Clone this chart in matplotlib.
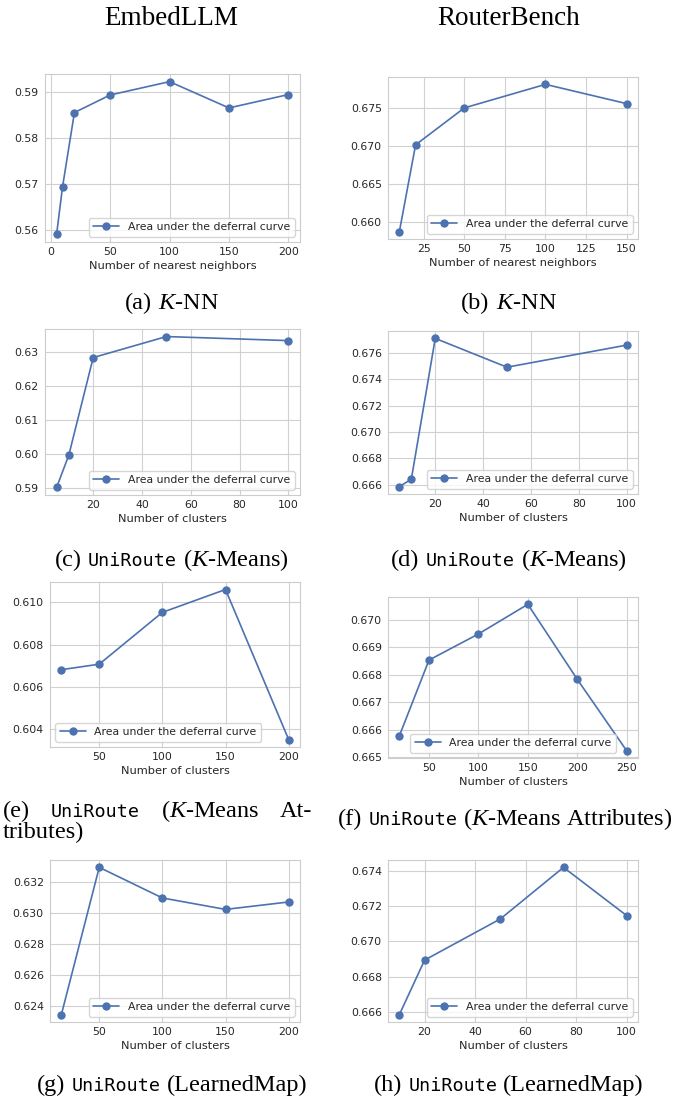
import matplotlib

matplotlib.use("Agg")
import matplotlib.pyplot as plt
import seaborn as sns
from matplotlib.ticker import MultipleLocator, FormatStrFormatter

# ---- data --------------------------------------------------------------
knn_embed_x = [5, 10, 20, 50, 100, 150, 200]
knn_embed_y = [0.5591, 0.5694, 0.5855, 0.5893, 0.5922, 0.5865, 0.5894]

knn_router_x = [10, 20, 50, 100, 150]
knn_router_y = [0.65878, 0.67013, 0.67496, 0.67804, 0.67552]

kmeans_embed_x = [5, 10, 20, 50, 100]
kmeans_embed_y = [0.5902, 0.5997, 0.6285, 0.6347, 0.6335]

kmeans_router_x = [5, 10, 20, 50, 100]
kmeans_router_y = [0.66585, 0.66641, 0.67712, 0.67493, 0.67661]

attr_embed_x = [20, 50, 100, 150, 200]
attr_embed_y = [0.60682, 0.60708, 0.60953, 0.61061, 0.60352]

attr_router_x = [20, 50, 100, 150, 200, 250]
attr_router_y = [0.66578, 0.66854, 0.66949, 0.67057, 0.66784, 0.66524]

learned_embed_x = [20, 50, 100, 150, 200]
learned_embed_y = [0.62344, 0.63297, 0.63099, 0.63025, 0.63073]

learned_router_x = [10, 20, 50, 75, 100]
learned_router_y = [0.66585, 0.66894, 0.67127, 0.67419, 0.67146]

COLUMN_TITLES = ["EmbedLLM", "RouterBench"]
SERIES_LABEL = "Area under the deferral curve"

# ---- style ---------------------------------------------------------------
sns.set_style("whitegrid")
plt.rcParams.update({
    "font.family": ["DejaVu Sans"],
    "mathtext.fontset": "custom",
    "mathtext.rm": "Liberation Serif",
    "mathtext.it": "Liberation Serif:italic",
    "mathtext.tt": "DejaVu Sans Mono",
    "axes.edgecolor": "0.8",
    "grid.color": "0.82",
    "text.color": "0.15",
    "axes.labelcolor": "0.15",
    "xtick.color": "0.15",
    "ytick.color": "0.15",
    "xtick.major.pad": 3.5,
    "ytick.major.pad": 4.5,
})

BLUE = "#4C72B0"
W, H = 676, 1100
SERIF = "Liberation Serif"
MONO = "DejaVu Sans Mono"
CAP_SIZE = 17.5
MONO_SIZE = 13.2


def rect(l, t, r, b):
    return [l / W, 1 - b / H, (r - l) / W, (b - t) / H]


def panel(fig, box, x, y, xlabel, xstep, ystep, ydec, loc):
    ax = fig.add_axes(rect(*box))
    ax.plot(x, y, color=BLUE, marker="o", markersize=5, linewidth=1.2,
            label=SERIES_LABEL)
    ax.xaxis.set_major_locator(MultipleLocator(xstep))
    ax.yaxis.set_major_locator(MultipleLocator(ystep))
    ax.yaxis.set_major_formatter(FormatStrFormatter(f"%.{ydec}f"))
    ax.tick_params(labelsize=7.8, length=0)
    ax.set_xlabel(xlabel, fontsize=8.2, labelpad=3)
    ax.legend(loc=loc, fontsize=7.8, handlelength=2.4, borderpad=0.4)
    return ax


def run_texts(fig, y, runs):
    out = []
    for s, mono in runs:
        kw = dict(family=MONO, fontsize=MONO_SIZE) if mono else dict(family=SERIF, fontsize=CAP_SIZE)
        out.append(fig.text(0, 1 - y / H, s, ha="left", va="baseline",
                            color="black", **kw))
    return out


def caption(fig, xc, y, runs, gap=6.0):
    r = fig.canvas.get_renderer()
    texts = run_texts(fig, y, runs)
    widths = [t.get_window_extent(r).width for t in texts]
    x = xc - (sum(widths) + gap * (len(widths) - 1)) / 2
    for t, w in zip(texts, widths):
        t.set_x(x / W)
        x += w + gap


def justified(fig, x0, x1, y, runs):
    r = fig.canvas.get_renderer()
    texts = run_texts(fig, y, runs)
    widths = [t.get_window_extent(r).width for t in texts]
    gap = (x1 - x0 - sum(widths)) / (len(widths) - 1)
    x = x0
    for t, w in zip(texts, widths):
        t.set_x(x / W)
        x += w + gap


def main():
    fig = plt.figure(figsize=(W / 100, H / 100), dpi=100)

    for title, xc in zip(COLUMN_TITLES, [171, 509]):
        fig.text(xc / W, 1 - 25 / H, title, family=SERIF, fontsize=19.5,
                 ha="center", va="baseline", color="black")

    nn = "Number of nearest neighbors"
    cl = "Number of clusters"
    panel(fig, (45, 74, 300, 242), knn_embed_x, knn_embed_y, nn, 50, 0.01, 2, "lower right")
    panel(fig, (388, 77, 638, 239), knn_router_x, knn_router_y, nn, 25, 0.005, 3, "lower right")
    panel(fig, (45, 329, 300, 495), kmeans_embed_x, kmeans_embed_y, cl, 20, 0.01, 2, "lower right")
    panel(fig, (388, 331, 638, 494), kmeans_router_x, kmeans_router_y, cl, 20, 0.002, 3, "lower right")
    panel(fig, (50, 582, 300, 747), attr_embed_x, attr_embed_y, cl, 50, 0.002, 3, "lower left")
    panel(fig, (388, 597, 638, 758), attr_router_x, attr_router_y, cl, 50, 0.001, 3, "lower center")
    panel(fig, (50, 860, 300, 1022), learned_embed_x, learned_embed_y, cl, 50, 0.002, 3, "lower right")
    panel(fig, (388, 860, 638, 1022), learned_router_x, learned_router_y, cl, 20, 0.002, 3, "lower right")

    fig.canvas.draw()
    L, R = 172, 509
    caption(fig, L, 309, [("(a)", False), ("$K$-NN", False)])
    caption(fig, R, 309, [("(b)", False), ("$K$-NN", False)])
    caption(fig, L, 566, [("(c)", False), ("UniRoute", True), ("($K$-Means)", False)])
    caption(fig, R, 566, [("(d)", False), ("UniRoute", True), ("($K$-Means)", False)])
    justified(fig, 3, 312, 817, [("(e)", False), ("UniRoute", True),
                                 ("($K$-Means", False), ("At-", False)])
    run_texts(fig, 838, [("tributes)", False)])[0].set_x(3 / W)
    caption(fig, 505, 825, [("(f)", False), ("UniRoute", True),
                            ("($K$-Means Attributes)", False)])
    caption(fig, L, 1091, [("(g)", False), ("UniRoute", True), ("(LearnedMap)", False)])
    caption(fig, R, 1091, [("(h)", False), ("UniRoute", True), ("(LearnedMap)", False)])

    fig.savefig("out.png", dpi=100, facecolor="white")


if __name__ == "__main__":
    main()
